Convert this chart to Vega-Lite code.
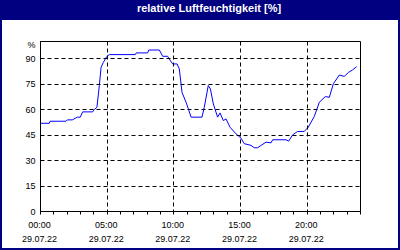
{
  "$schema": "https://vega.github.io/schema/vega-lite/v6.json",
  "width": 320,
  "height": 170,
  "autosize": {"type": "none"},
  "padding": {"left": 40, "top": 41, "right": 40, "bottom": 39},
  "background": "#000080",
  "title": {
    "text": "relative Luftfeuchtigkeit [%]",
    "font": "Liberation Sans",
    "fontSize": 11,
    "fontWeight": "bold",
    "color": "white",
    "anchor": "middle",
    "frame": "group",
    "baseline": "alphabetic",
    "offset": 7.5,
    "dy": 10,
    "dx": 9
  },
  "config": {
    "view": {"stroke": "black", "strokeWidth": 1},
    "style": {"cell": {"strokeForeground": true}},
    "axis": {
      "labelFont": "Liberation Sans",
      "labelFontSize": 9,
      "labelColor": "black",
      "domainColor": "black",
      "tickColor": "black",
      "gridColor": "black",
      "gridDash": [4, 3],
      "gridWidth": 1,
      "title": null
    }
  },
  "data": {
    "values": [
      {"h": 0, "rh": 51.6},
      {"h": 0.7, "rh": 51.6},
      {"h": 0.75, "rh": 52.8},
      {"h": 1.95, "rh": 52.8},
      {"h": 2.05, "rh": 53.6},
      {"h": 2.42, "rh": 53.6},
      {"h": 2.8, "rh": 55.2},
      {"h": 3.02, "rh": 55.2},
      {"h": 3.2, "rh": 58.3},
      {"h": 3.95, "rh": 58.3},
      {"h": 4.07, "rh": 59.7},
      {"h": 4.27, "rh": 61},
      {"h": 4.45, "rh": 73.8},
      {"h": 4.58, "rh": 84.5},
      {"h": 4.75, "rh": 87.4},
      {"h": 5.0, "rh": 90.8},
      {"h": 5.2, "rh": 92},
      {"h": 7.15, "rh": 92},
      {"h": 7.22, "rh": 93},
      {"h": 8.07, "rh": 93},
      {"h": 8.16, "rh": 94.7},
      {"h": 8.95, "rh": 94.7},
      {"h": 9.2, "rh": 91},
      {"h": 9.57, "rh": 91},
      {"h": 9.7, "rh": 89.4},
      {"h": 9.95, "rh": 86.5},
      {"h": 10.28, "rh": 86.5},
      {"h": 10.45, "rh": 83.5},
      {"h": 10.65, "rh": 69.8},
      {"h": 11.0, "rh": 63},
      {"h": 11.33, "rh": 55.2},
      {"h": 12.15, "rh": 55.2},
      {"h": 12.32, "rh": 61},
      {"h": 12.62, "rh": 73.8},
      {"h": 12.78, "rh": 71.8},
      {"h": 13.0, "rh": 63},
      {"h": 13.32, "rh": 55.2},
      {"h": 13.5, "rh": 57.7},
      {"h": 13.75, "rh": 53.2},
      {"h": 13.95, "rh": 54.2},
      {"h": 14.25, "rh": 49.3},
      {"h": 14.7, "rh": 45.4},
      {"h": 15.08, "rh": 42.8},
      {"h": 15.32, "rh": 39.6},
      {"h": 15.83, "rh": 38.6},
      {"h": 16.07, "rh": 37.2},
      {"h": 16.32, "rh": 37.2},
      {"h": 16.58, "rh": 38.6},
      {"h": 16.95, "rh": 40.5},
      {"h": 17.33, "rh": 40.1},
      {"h": 17.45, "rh": 41.9},
      {"h": 18.45, "rh": 41.9},
      {"h": 18.65, "rh": 41.1},
      {"h": 18.95, "rh": 44.8},
      {"h": 19.32, "rh": 46.8},
      {"h": 19.82, "rh": 46.8},
      {"h": 20.12, "rh": 49.3},
      {"h": 20.57, "rh": 55.6},
      {"h": 20.95, "rh": 64},
      {"h": 21.4, "rh": 67.3},
      {"h": 21.7, "rh": 66.9},
      {"h": 22.0, "rh": 74.8},
      {"h": 22.45, "rh": 80},
      {"h": 22.82, "rh": 79.2},
      {"h": 23.15, "rh": 81.6},
      {"h": 23.45, "rh": 83},
      {"h": 23.75, "rh": 84.9}
    ]
  },
  "layer": [
    {
      "mark": {"type": "rect", "fill": "white", "clip": false},
      "encoding": {
        "x": {
          "datum": -2.85,
          "type": "quantitative",
          "scale": {"domain": [0, 24], "nice": false, "zero": false},
          "axis": {
            "zindex": 1,
            "values": [0,1,2,3,4,5,6,7,8,9,10,11,12,13,14,15,16,17,18,19,20,21,22,23,24],
            "labelExpr": "datum.value % 5 == 0 && datum.value < 24 ? [(datum.value < 10 ? '0' : '') + datum.value + ':00', '29.07.22'] : ''",
            "labelLineHeight": 14,
            "labelOverlap": false,
            "labelFlush": false,
            "labelPadding": 6,
            "labelOffset": -1,
            "tickSize": 3,
            "grid": true,
            "gridOpacity": {"condition": {"test": "datum.value % 5 == 0", "value": 1}, "value": 0}
          }
        },
        "x2": {"datum": 26.85},
        "y": {
          "datum": 112.35,
          "type": "quantitative",
          "scale": {"domain": [0, 100], "nice": false},
          "axis": {
            "zindex": 1,
            "values": [0, 15, 30, 45, 60, 75, 90, 100],
            "labelExpr": "datum.value == 100 ? '%' : datum.label",
            "labelOverlap": false,
            "ticks": false,
            "labelPadding": 5,
            "grid": true,
            "labelOffset": {"condition": {"test": "datum.value == 100", "value": 3}, "value": 0}
          }
        },
        "y2": {"datum": -21.76}
      }
    },
    {
      "mark": {"type": "line", "color": "#0000ff", "strokeWidth": 1, "interpolate": "linear"},
      "encoding": {
        "x": {
          "field": "h",
          "type": "quantitative",
          "scale": {"domain": [0, 24], "nice": false, "zero": false},
          "axis": {
            "zindex": 1,
            "values": [0,1,2,3,4,5,6,7,8,9,10,11,12,13,14,15,16,17,18,19,20,21,22,23,24],
            "labelExpr": "datum.value % 5 == 0 && datum.value < 24 ? [(datum.value < 10 ? '0' : '') + datum.value + ':00', '29.07.22'] : ''",
            "labelLineHeight": 14,
            "labelOverlap": false,
            "labelFlush": false,
            "labelPadding": 6,
            "labelOffset": -1,
            "tickSize": 3,
            "grid": true,
            "gridOpacity": {"condition": {"test": "datum.value % 5 == 0", "value": 1}, "value": 0}
          }
        },
        "y": {
          "field": "rh",
          "type": "quantitative",
          "scale": {"domain": [0, 100], "nice": false},
          "axis": {
            "zindex": 1,
            "values": [0, 15, 30, 45, 60, 75, 90, 100],
            "labelExpr": "datum.value == 100 ? '%' : datum.label",
            "labelOverlap": false,
            "ticks": false,
            "labelPadding": 5,
            "grid": true,
            "labelOffset": {"condition": {"test": "datum.value == 100", "value": 3}, "value": 0}
          }
        }
      }
    }
  ]
}
